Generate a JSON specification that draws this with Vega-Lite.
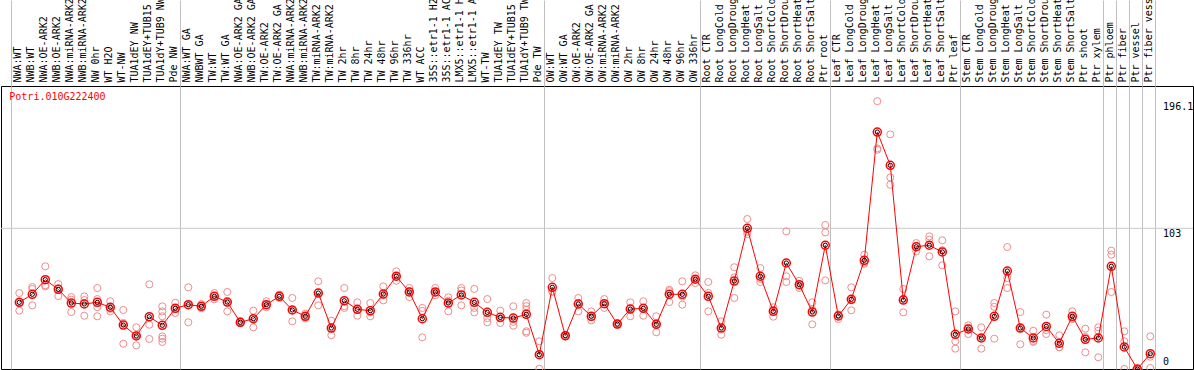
{
  "$schema": "https://vega.github.io/schema/vega-lite/v6.json",
  "width": 1192,
  "height": 283,
  "autosize": {"type": "none"},
  "padding": {"left": 1, "top": 86, "right": 1, "bottom": 1},
  "background": "white",
  "config": {"view": {"stroke": "black", "strokeWidth": 1}, "font": "DejaVu Sans Mono"},
  "datasets": {
    "means": [
      {"s": "NWA:WT", "m": 48.8}, {"s": "NWB:WT", "m": 54.7}, {"s": "NWA:OE-ARK2", "m": 65.4}, {"s": "NWB:OE-ARK2", "m": 58.3},
      {"s": "NWA:miRNA-ARK2", "m": 48.3}, {"s": "NWB:miRNA-ARK2", "m": 47.6}, {"s": "NW 0hr", "m": 48.8}, {"s": "WT H2O", "m": 45.2},
      {"s": "WT-NW", "m": 32.2}, {"s": "TUA1dEY NW", "m": 24.2}, {"s": "TUA1dEY+TUB15 NW", "m": 38.3}, {"s": "TUA1dY+TUB9 NW", "m": 32.0},
      {"s": "Pde NW", "m": 44.4}, {"s": "NWA:WT GA", "m": 47.1}, {"s": "NWBWT GA", "m": 45.9}, {"s": "TW:WT", "m": 53.2},
      {"s": "TW:WT GA", "m": 49.0}, {"s": "NWA:OE-ARK2 GA", "m": 34.2}, {"s": "NWB:OE-ARK2 GA", "m": 36.8}, {"s": "TW:OE-ARK2", "m": 47.1},
      {"s": "TW:OE-ARK2 GA", "m": 53.2}, {"s": "NWA:miRNA-ARK2 GA", "m": 43.2}, {"s": "NWB:miRNA-ARK2 GA", "m": 38.6}, {"s": "TW:miRNA-ARK2", "m": 55.6},
      {"s": "TW:miRNA-ARK2 GA", "m": 30.0}, {"s": "TW 2hr", "m": 50.0}, {"s": "TW 8hr", "m": 43.7}, {"s": "TW 24hr", "m": 42.7},
      {"s": "TW 48hr", "m": 54.9}, {"s": "TW 96hr", "m": 67.9}, {"s": "TW 336hr", "m": 56.4}, {"s": "WT ACC", "m": 36.8},
      {"s": "35S::etr1-1 H2O", "m": 56.4}, {"s": "35S::etr1-1 ACC", "m": 48.3}, {"s": "LMX5::etr1-1 H2O", "m": 54.2}, {"s": "LMX5::etr1-1 ACC", "m": 48.8},
      {"s": "WT-TW", "m": 41.5}, {"s": "TUA1dEY TW", "m": 37.8}, {"s": "TUA1dEY+TUB15 TW", "m": 37.3}, {"s": "TUA1dY+TUB9 TW", "m": 40.0},
      {"s": "Pde TW", "m": 10.5}, {"s": "OW:WT", "m": 59.8}, {"s": "OW:WT GA", "m": 24.4}, {"s": "OW:OE-ARK2", "m": 47.6},
      {"s": "OW:OE-ARK2 GA", "m": 38.6}, {"s": "OW:miRNA-ARK2", "m": 47.8}, {"s": "OW:miRNA-ARK2 GA", "m": 32.9}, {"s": "OW 2hr", "m": 43.9},
      {"s": "OW 8hr", "m": 44.4}, {"s": "OW 24hr", "m": 32.7}, {"s": "OW 48hr", "m": 54.7}, {"s": "OW 96hr", "m": 54.7},
      {"s": "OW 336hr", "m": 65.7}, {"s": "Root CTR", "m": 53.2}, {"s": "Root LongCold", "m": 30.0}, {"s": "Root LongDrought", "m": 64.4},
      {"s": "Root LongHeat", "m": 103.0}, {"s": "Root LongSalt", "m": 67.9}, {"s": "Root ShortCold", "m": 42.2}, {"s": "Root ShortDrought", "m": 77.6},
      {"s": "Root ShortHeat", "m": 61.7}, {"s": "Root ShortSalt", "m": 41.7}, {"s": "Ptr root", "m": 90.6}, {"s": "Leaf CTR", "m": 38.8},
      {"s": "Leaf LongCold", "m": 51.0}, {"s": "Leaf LongDrought", "m": 79.6}, {"s": "Leaf LongHeat", "m": 173.5}, {"s": "Leaf LongSalt", "m": 149.1},
      {"s": "Leaf ShortCold", "m": 50.5}, {"s": "Leaf ShortDrought", "m": 89.5}, {"s": "Leaf ShortHeat", "m": 90.6}, {"s": "Leaf ShortSalt", "m": 85.7},
      {"s": "Ptr leaf", "m": 25.4}, {"s": "Stem CTR", "m": 29.3}, {"s": "Stem LongCold", "m": 22.7}, {"s": "Stem LongDrought", "m": 38.6},
      {"s": "Stem LongHeat", "m": 71.7}, {"s": "Stem LongSalt", "m": 30.0}, {"s": "Stem ShortCold", "m": 22.7}, {"s": "Stem ShortDrought", "m": 31.2},
      {"s": "Stem ShortHeat", "m": 18.8}, {"s": "Stem ShortSalt", "m": 38.6}, {"s": "Ptr shoot", "m": 21.7}, {"s": "Ptr xylem", "m": 22.7},
      {"s": "Ptr phloem", "m": 75.2}, {"s": "Ptr fiber", "m": 16.1}, {"s": "Ptr vessel", "m": 0}, {"s": "Ptr fiber vessel", "m": 11.2}
    ],
    "reps": [
      {"s": "NWA:WT", "v": 55.6}, {"s": "NWA:WT", "v": 48.8}, {"s": "NWA:WT", "v": 42.7},
      {"s": "NWB:WT", "v": 60.0}, {"s": "NWB:WT", "v": 58.6}, {"s": "NWB:WT", "v": 46.6},
      {"s": "NWA:OE-ARK2", "v": 75.2}, {"s": "NWA:OE-ARK2", "v": 60.5}, {"s": "NWA:OE-ARK2", "v": 61.3},
      {"s": "NWB:OE-ARK2", "v": 62.2}, {"s": "NWB:OE-ARK2", "v": 59.0}, {"s": "NWB:OE-ARK2", "v": 53.4},
      {"s": "NWA:miRNA-ARK2", "v": 52.7}, {"s": "NWA:miRNA-ARK2", "v": 50.7}, {"s": "NWA:miRNA-ARK2", "v": 41.7},
      {"s": "NWB:miRNA-ARK2", "v": 53.2}, {"s": "NWB:miRNA-ARK2", "v": 50.5}, {"s": "NWB:miRNA-ARK2", "v": 39.0},
      {"s": "NW 0hr", "v": 59.3}, {"s": "NW 0hr", "v": 51.2}, {"s": "NW 0hr", "v": 45.2}, {"s": "NW 0hr", "v": 38.6},
      {"s": "WT H2O", "v": 49.6}, {"s": "WT H2O", "v": 44.0}, {"s": "WT H2O", "v": 42.2},
      {"s": "WT-NW", "v": 43.2}, {"s": "WT-NW", "v": 33.7}, {"s": "WT-NW", "v": 18.5},
      {"s": "TUA1dEY NW", "v": 30.5}, {"s": "TUA1dEY NW", "v": 24.5}, {"s": "TUA1dEY NW", "v": 17.3},
      {"s": "TUA1dEY+TUB15 NW", "v": 62.0}, {"s": "TUA1dEY+TUB15 NW", "v": 32.4}, {"s": "TUA1dEY+TUB15 NW", "v": 22.0},
      {"s": "TUA1dY+TUB9 NW", "v": 45.9}, {"s": "TUA1dY+TUB9 NW", "v": 42.2}, {"s": "TUA1dY+TUB9 NW", "v": 38.6}, {"s": "TUA1dY+TUB9 NW", "v": 23.9}, {"s": "TUA1dY+TUB9 NW", "v": 22.2}, {"s": "TUA1dY+TUB9 NW", "v": 19.8},
      {"s": "Pde NW", "v": 48.5}, {"s": "Pde NW", "v": 44.0}, {"s": "Pde NW", "v": 41.0},
      {"s": "NWA:WT GA", "v": 59.8}, {"s": "NWA:WT GA", "v": 47.0}, {"s": "NWA:WT GA", "v": 34.2},
      {"s": "NWBWT GA", "v": 47.6}, {"s": "NWBWT GA", "v": 45.9}, {"s": "NWBWT GA", "v": 44.5},
      {"s": "TW:WT", "v": 55.6}, {"s": "TW:WT", "v": 53.5}, {"s": "TW:WT", "v": 51.0},
      {"s": "TW:WT GA", "v": 56.4}, {"s": "TW:WT GA", "v": 48.5}, {"s": "TW:WT GA", "v": 42.2},
      {"s": "NWA:OE-ARK2 GA", "v": 35.0}, {"s": "NWA:OE-ARK2 GA", "v": 34.2}, {"s": "NWA:OE-ARK2 GA", "v": 33.5},
      {"s": "NWB:OE-ARK2 GA", "v": 42.7}, {"s": "NWB:OE-ARK2 GA", "v": 37.0}, {"s": "NWB:OE-ARK2 GA", "v": 30.5},
      {"s": "TW:OE-ARK2", "v": 49.6}, {"s": "TW:OE-ARK2", "v": 47.0}, {"s": "TW:OE-ARK2", "v": 45.2},
      {"s": "TW:OE-ARK2 GA", "v": 54.5}, {"s": "TW:OE-ARK2 GA", "v": 53.2}, {"s": "TW:OE-ARK2 GA", "v": 52.0},
      {"s": "NWA:miRNA-ARK2 GA", "v": 52.0}, {"s": "NWA:miRNA-ARK2 GA", "v": 43.0}, {"s": "NWA:miRNA-ARK2 GA", "v": 34.9},
      {"s": "NWB:miRNA-ARK2 GA", "v": 40.5}, {"s": "NWB:miRNA-ARK2 GA", "v": 38.6}, {"s": "NWB:miRNA-ARK2 GA", "v": 37.0},
      {"s": "TW:miRNA-ARK2", "v": 64.2}, {"s": "TW:miRNA-ARK2", "v": 56.0}, {"s": "TW:miRNA-ARK2", "v": 46.6},
      {"s": "TW:miRNA-ARK2 GA", "v": 35.4}, {"s": "TW:miRNA-ARK2 GA", "v": 30.0}, {"s": "TW:miRNA-ARK2 GA", "v": 24.7},
      {"s": "TW 2hr", "v": 59.3}, {"s": "TW 2hr", "v": 46.0}, {"s": "TW 2hr", "v": 44.7},
      {"s": "TW 8hr", "v": 48.8}, {"s": "TW 8hr", "v": 43.5}, {"s": "TW 8hr", "v": 39.0},
      {"s": "TW 24hr", "v": 48.3}, {"s": "TW 24hr", "v": 41.5}, {"s": "TW 24hr", "v": 38.6},
      {"s": "TW 48hr", "v": 60.5}, {"s": "TW 48hr", "v": 54.0}, {"s": "TW 48hr", "v": 50.3},
      {"s": "TW 96hr", "v": 71.5}, {"s": "TW 96hr", "v": 67.5}, {"s": "TW 96hr", "v": 64.6},
      {"s": "TW 336hr", "v": 59.3}, {"s": "TW 336hr", "v": 57.0}, {"s": "TW 336hr", "v": 52.7},
      {"s": "WT ACC", "v": 44.7}, {"s": "WT ACC", "v": 42.5}, {"s": "WT ACC", "v": 23.2},
      {"s": "35S::etr1-1 H2O", "v": 59.3}, {"s": "35S::etr1-1 H2O", "v": 56.0}, {"s": "35S::etr1-1 H2O", "v": 54.0},
      {"s": "35S::etr1-1 ACC", "v": 52.5}, {"s": "35S::etr1-1 ACC", "v": 50.0}, {"s": "35S::etr1-1 ACC", "v": 42.2},
      {"s": "LMX5::etr1-1 H2O", "v": 59.3}, {"s": "LMX5::etr1-1 H2O", "v": 57.5}, {"s": "LMX5::etr1-1 H2O", "v": 46.6},
      {"s": "LMX5::etr1-1 ACC", "v": 58.6}, {"s": "LMX5::etr1-1 ACC", "v": 44.7}, {"s": "LMX5::etr1-1 ACC", "v": 41.5},
      {"s": "WT-TW", "v": 51.2}, {"s": "WT-TW", "v": 37.3}, {"s": "WT-TW", "v": 34.2},
      {"s": "TUA1dEY TW", "v": 42.7}, {"s": "TUA1dEY TW", "v": 37.0}, {"s": "TUA1dEY TW", "v": 33.7},
      {"s": "TUA1dEY+TUB15 TW", "v": 45.9}, {"s": "TUA1dEY+TUB15 TW", "v": 34.5}, {"s": "TUA1dEY+TUB15 TW", "v": 31.7},
      {"s": "TUA1dY+TUB9 TW", "v": 48.3}, {"s": "TUA1dY+TUB9 TW", "v": 46.0}, {"s": "TUA1dY+TUB9 TW", "v": 43.5}, {"s": "TUA1dY+TUB9 TW", "v": 27.6}, {"s": "TUA1dY+TUB9 TW", "v": 26.5},
      {"s": "Pde TW", "v": 20.3}, {"s": "Pde TW", "v": 11.0}, {"s": "Pde TW", "v": 0.2},
      {"s": "OW:WT", "v": 66.6}, {"s": "OW:WT", "v": 57.0}, {"s": "OW:WT", "v": 56.4},
      {"s": "OW:WT GA", "v": 25.0}, {"s": "OW:WT GA", "v": 24.4}, {"s": "OW:WT GA", "v": 23.8},
      {"s": "OW:OE-ARK2", "v": 52.0}, {"s": "OW:OE-ARK2", "v": 48.5}, {"s": "OW:OE-ARK2", "v": 42.2},
      {"s": "OW:OE-ARK2 GA", "v": 42.2}, {"s": "OW:OE-ARK2 GA", "v": 38.0}, {"s": "OW:OE-ARK2 GA", "v": 35.6},
      {"s": "OW:miRNA-ARK2", "v": 51.2}, {"s": "OW:miRNA-ARK2", "v": 47.5}, {"s": "OW:miRNA-ARK2", "v": 44.7},
      {"s": "OW:miRNA-ARK2 GA", "v": 33.5}, {"s": "OW:miRNA-ARK2 GA", "v": 32.9}, {"s": "OW:miRNA-ARK2 GA", "v": 32.3},
      {"s": "OW 2hr", "v": 48.8}, {"s": "OW 2hr", "v": 44.3}, {"s": "OW 2hr", "v": 38.6},
      {"s": "OW 8hr", "v": 49.6}, {"s": "OW 8hr", "v": 44.5}, {"s": "OW 8hr", "v": 39.0},
      {"s": "OW 24hr", "v": 38.6}, {"s": "OW 24hr", "v": 32.7}, {"s": "OW 24hr", "v": 26.9},
      {"s": "OW 48hr", "v": 58.0}, {"s": "OW 48hr", "v": 57.0}, {"s": "OW 48hr", "v": 49.0},
      {"s": "OW 96hr", "v": 64.2}, {"s": "OW 96hr", "v": 53.0}, {"s": "OW 96hr", "v": 47.1},
      {"s": "OW 336hr", "v": 68.6}, {"s": "OW 336hr", "v": 65.5}, {"s": "OW 336hr", "v": 63.0},
      {"s": "Root CTR", "v": 63.7}, {"s": "Root CTR", "v": 55.6}, {"s": "Root CTR", "v": 42.2},
      {"s": "Root LongCold", "v": 34.9}, {"s": "Root LongCold", "v": 30.0}, {"s": "Root LongCold", "v": 25.1},
      {"s": "Root LongDrought", "v": 74.5}, {"s": "Root LongDrought", "v": 67.1}, {"s": "Root LongDrought", "v": 52.0},
      {"s": "Root LongHeat", "v": 109.8}, {"s": "Root LongHeat", "v": 100.5}, {"s": "Root LongHeat", "v": 98.8},
      {"s": "Root LongSalt", "v": 73.9}, {"s": "Root LongSalt", "v": 66.0}, {"s": "Root LongSalt", "v": 63.7},
      {"s": "Root ShortCold", "v": 45.2}, {"s": "Root ShortCold", "v": 43.0}, {"s": "Root ShortCold", "v": 38.3},
      {"s": "Root ShortDrought", "v": 100.8}, {"s": "Root ShortDrought", "v": 67.9}, {"s": "Root ShortDrought", "v": 63.7},
      {"s": "Root ShortHeat", "v": 64.6}, {"s": "Root ShortHeat", "v": 61.5}, {"s": "Root ShortHeat", "v": 59.3},
      {"s": "Root ShortSalt", "v": 48.8}, {"s": "Root ShortSalt", "v": 43.5}, {"s": "Root ShortSalt", "v": 32.7},
      {"s": "Ptr root", "v": 105.4}, {"s": "Ptr root", "v": 100.0}, {"s": "Ptr root", "v": 64.9},
      {"s": "Leaf CTR", "v": 40.0}, {"s": "Leaf CTR", "v": 39.5}, {"s": "Leaf CTR", "v": 36.6},
      {"s": "Leaf LongCold", "v": 59.8}, {"s": "Leaf LongCold", "v": 50.5}, {"s": "Leaf LongCold", "v": 43.0},
      {"s": "Leaf LongDrought", "v": 83.7}, {"s": "Leaf LongDrought", "v": 78.0}, {"s": "Leaf LongDrought", "v": 77.1},
      {"s": "Leaf LongHeat", "v": 196.1}, {"s": "Leaf LongHeat", "v": 161.5}, {"s": "Leaf LongHeat", "v": 160.5},
      {"s": "Leaf LongSalt", "v": 171.8}, {"s": "Leaf LongSalt", "v": 140.3}, {"s": "Leaf LongSalt", "v": 134.9},
      {"s": "Leaf ShortCold", "v": 58.6}, {"s": "Leaf ShortCold", "v": 51.5}, {"s": "Leaf ShortCold", "v": 41.5},
      {"s": "Leaf ShortDrought", "v": 92.2}, {"s": "Leaf ShortDrought", "v": 90.0}, {"s": "Leaf ShortDrought", "v": 86.2},
      {"s": "Leaf ShortHeat", "v": 97.1}, {"s": "Leaf ShortHeat", "v": 94.7}, {"s": "Leaf ShortHeat", "v": 82.5},
      {"s": "Leaf ShortSalt", "v": 94.2}, {"s": "Leaf ShortSalt", "v": 87.0}, {"s": "Leaf ShortSalt", "v": 75.9},
      {"s": "Ptr leaf", "v": 42.2}, {"s": "Ptr leaf", "v": 20.3}, {"s": "Ptr leaf", "v": 14.9},
      {"s": "Stem CTR", "v": 32.0}, {"s": "Stem CTR", "v": 30.0}, {"s": "Stem CTR", "v": 25.6},
      {"s": "Stem LongCold", "v": 30.5}, {"s": "Stem LongCold", "v": 22.7}, {"s": "Stem LongCold", "v": 14.9},
      {"s": "Stem LongDrought", "v": 48.3}, {"s": "Stem LongDrought", "v": 45.5}, {"s": "Stem LongDrought", "v": 22.2},
      {"s": "Stem LongHeat", "v": 89.3}, {"s": "Stem LongHeat", "v": 66.6}, {"s": "Stem LongHeat", "v": 59.3},
      {"s": "Stem LongSalt", "v": 41.7}, {"s": "Stem LongSalt", "v": 30.0}, {"s": "Stem LongSalt", "v": 18.1},
      {"s": "Stem ShortCold", "v": 28.0}, {"s": "Stem ShortCold", "v": 20.5}, {"s": "Stem ShortCold", "v": 19.8},
      {"s": "Stem ShortDrought", "v": 39.8}, {"s": "Stem ShortDrought", "v": 28.5}, {"s": "Stem ShortDrought", "v": 25.6},
      {"s": "Stem ShortHeat", "v": 24.7}, {"s": "Stem ShortHeat", "v": 16.0}, {"s": "Stem ShortHeat", "v": 15.9},
      {"s": "Stem ShortSalt", "v": 42.2}, {"s": "Stem ShortSalt", "v": 37.0}, {"s": "Stem ShortSalt", "v": 36.6},
      {"s": "Ptr shoot", "v": 29.5}, {"s": "Ptr shoot", "v": 23.5}, {"s": "Ptr shoot", "v": 12.2},
      {"s": "Ptr xylem", "v": 30.5}, {"s": "Ptr xylem", "v": 28.0}, {"s": "Ptr xylem", "v": 8.6},
      {"s": "Ptr phloem", "v": 86.6}, {"s": "Ptr phloem", "v": 83.7}, {"s": "Ptr phloem", "v": 56.4},
      {"s": "Ptr fiber", "v": 27.6}, {"s": "Ptr fiber", "v": 20.3}, {"s": "Ptr fiber", "v": 0},
      {"s": "Ptr vessel", "v": 0}, {"s": "Ptr vessel", "v": 0}, {"s": "Ptr vessel", "v": 0},
      {"s": "Ptr fiber vessel", "v": 23.9}, {"s": "Ptr fiber vessel", "v": 9.0}, {"s": "Ptr fiber vessel", "v": 0.7}
    ]
  },
  "resolve": {"axis": {"x": "independent"}},
  "layer": [
    {
      "data": {"values": [{"g": 103}]},
      "mark": {"type": "rule", "color": "#c8c8c8", "strokeWidth": 1},
      "encoding": {
        "y": {"field": "g", "type": "quantitative", "scale": {"domain": [0, 207.2], "nice": false, "zero": true}, "axis": null}
      }
    },
    {
      "data": {"name": "reps"},
      "mark": {"type": "point", "shape": "circle", "filled": false, "size": 50, "stroke": "#f08c8c", "strokeWidth": 1, "opacity": 1},
      "encoding": {
        "x": {
          "field": "s", "type": "nominal", "bandPosition": 0.615,
          "scale": {"type": "band", "range": [10.3, 1167.3], "paddingInner": 0, "paddingOuter": 0,
            "domain": ["NWA:WT", "NWB:WT", "NWA:OE-ARK2", "NWB:OE-ARK2", "NWA:miRNA-ARK2", "NWB:miRNA-ARK2", "NW 0hr", "WT H2O", "WT-NW", "TUA1dEY NW", "TUA1dEY+TUB15 NW", "TUA1dY+TUB9 NW", "Pde NW", "NWA:WT GA", "NWBWT GA", "TW:WT", "TW:WT GA", "NWA:OE-ARK2 GA", "NWB:OE-ARK2 GA", "TW:OE-ARK2", "TW:OE-ARK2 GA", "NWA:miRNA-ARK2 GA", "NWB:miRNA-ARK2 GA", "TW:miRNA-ARK2", "TW:miRNA-ARK2 GA", "TW 2hr", "TW 8hr", "TW 24hr", "TW 48hr", "TW 96hr", "TW 336hr", "WT ACC", "35S::etr1-1 H2O", "35S::etr1-1 ACC", "LMX5::etr1-1 H2O", "LMX5::etr1-1 ACC", "WT-TW", "TUA1dEY TW", "TUA1dEY+TUB15 TW", "TUA1dY+TUB9 TW", "Pde TW", "OW:WT", "OW:WT GA", "OW:OE-ARK2", "OW:OE-ARK2 GA", "OW:miRNA-ARK2", "OW:miRNA-ARK2 GA", "OW 2hr", "OW 8hr", "OW 24hr", "OW 48hr", "OW 96hr", "OW 336hr", "Root CTR", "Root LongCold", "Root LongDrought", "Root LongHeat", "Root LongSalt", "Root ShortCold", "Root ShortDrought", "Root ShortHeat", "Root ShortSalt", "Ptr root", "Leaf CTR", "Leaf LongCold", "Leaf LongDrought", "Leaf LongHeat", "Leaf LongSalt", "Leaf ShortCold", "Leaf ShortDrought", "Leaf ShortHeat", "Leaf ShortSalt", "Ptr leaf", "Stem CTR", "Stem LongCold", "Stem LongDrought", "Stem LongHeat", "Stem LongSalt", "Stem ShortCold", "Stem ShortDrought", "Stem ShortHeat", "Stem ShortSalt", "Ptr shoot", "Ptr xylem", "Ptr phloem", "Ptr fiber", "Ptr vessel", "Ptr fiber vessel", " "]},
          "axis": {"orient": "top", "values": ["NWA:WT", "NWA:WT GA", "OW:WT", "Root CTR", "Leaf CTR", "Stem CTR", "Ptr phloem", "Ptr fiber", "Ptr vessel", "Ptr fiber vessel", " "],
            "bandPosition": 0, "labels": false, "domain": false, "ticks": true, "tickSize": 86, "tickColor": "#c0c0c0", "tickWidth": 1,
            "grid": true, "gridColor": "#c0c0c0", "gridWidth": 1, "gridOpacity": 1, "title": null}
        },
        "y": {"field": "v", "type": "quantitative", "axis": null}
      }
    },
    {
      "data": {"name": "means"},
      "mark": {"type": "line", "color": "#ff0000", "strokeWidth": 1},
      "encoding": {
        "x": {
          "field": "s", "type": "nominal", "bandPosition": 0.615,
          "axis": {"orient": "top", "bandPosition": 0.55, "ticks": false, "domain": false, "grid": false,
            "labelAngle": -90, "labelAlign": "left", "labelBaseline": "middle", "labelPadding": 4,
            "labelFont": "DejaVu Sans Mono", "labelFontSize": 10, "labelColor": "black",
            "labelOverlap": false, "labelLimit": 300, "labelFlush": false, "title": null}
        },
        "y": {"field": "m", "type": "quantitative", "axis": null}
      }
    },
    {
      "data": {"name": "means"},
      "mark": {"type": "point", "shape": "circle", "filled": false, "size": 64, "stroke": "#ff0000", "strokeWidth": 1.5, "opacity": 1},
      "encoding": {
        "x": {"field": "s", "type": "nominal", "bandPosition": 0.615, "axis": null},
        "y": {"field": "m", "type": "quantitative", "axis": null}
      }
    },
    {
      "data": {"name": "means"},
      "mark": {"type": "point", "shape": "circle", "filled": false, "size": 18, "stroke": "black", "strokeWidth": 1, "opacity": 1},
      "encoding": {
        "x": {"field": "s", "type": "nominal", "bandPosition": 0.615, "axis": null},
        "y": {"field": "m", "type": "quantitative", "axis": null}
      }
    },
    {
      "data": {"values": [{"t": "196.1", "v": 196.1}, {"t": "103", "v": 103}]},
      "mark": {"type": "text", "align": "left", "baseline": "top", "font": "DejaVu Sans Mono", "fontSize": 10, "color": "black", "dy": 1},
      "encoding": {
        "x": {"datum": " ", "type": "nominal", "bandPosition": 0.6, "axis": null},
        "y": {"field": "v", "type": "quantitative", "axis": null},
        "text": {"field": "t"}
      }
    },
    {
      "data": {"values": [{"t": "0", "v": 0}]},
      "mark": {"type": "text", "align": "left", "baseline": "bottom", "font": "DejaVu Sans Mono", "fontSize": 10, "color": "black", "dy": -2},
      "encoding": {
        "x": {"datum": " ", "type": "nominal", "bandPosition": 0.6, "axis": null},
        "y": {"field": "v", "type": "quantitative", "axis": null},
        "text": {"field": "t"}
      }
    },
    {
      "data": {"values": [{"t": "Potri.010G222400", "v": 199}]},
      "mark": {"type": "text", "align": "left", "baseline": "middle", "font": "DejaVu Sans Mono", "fontSize": 10, "color": "#ff0000", "dx": -2},
      "encoding": {
        "x": {"datum": "NWA:WT", "type": "nominal", "bandPosition": 0, "axis": null},
        "y": {"field": "v", "type": "quantitative", "axis": null},
        "text": {"field": "t"}
      }
    }
  ]
}
